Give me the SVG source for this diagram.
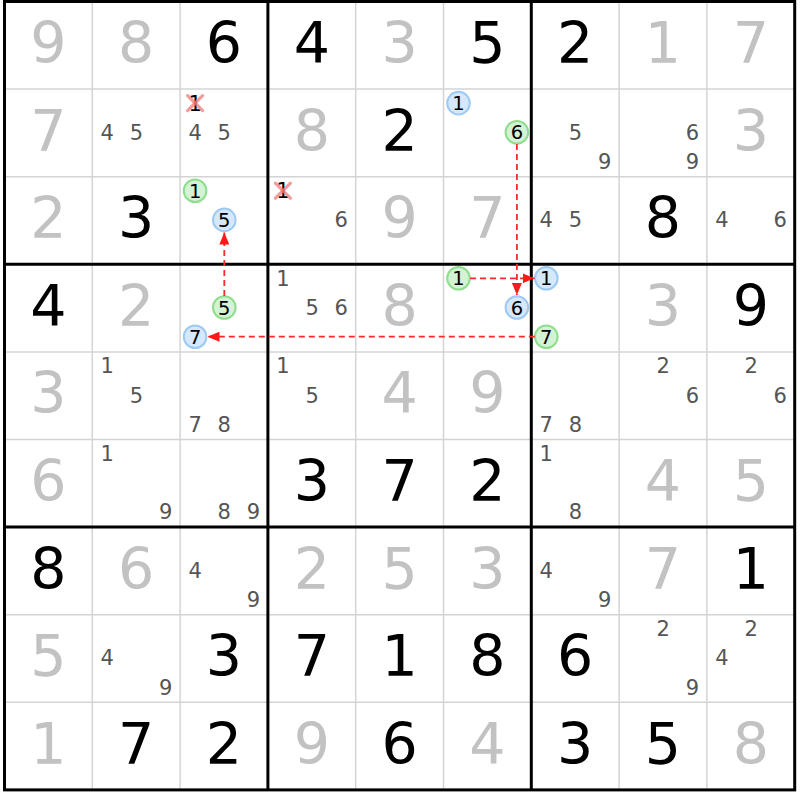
<svg xmlns="http://www.w3.org/2000/svg" width="800" height="800" viewBox="0 0 800 800">
<style>
text{font-family:"DejaVu Sans","Liberation Sans",sans-serif;text-anchor:middle}
.g{font-size:57px;fill:#000}
.s{font-size:57px;fill:#c2c2c2}
.c{font-size:21px;fill:#555}
.k{font-size:21px;fill:#000}
.cd{font-size:19.5px;fill:#000}
.thin{stroke:#d4d4d4;stroke-width:1.5}
.thick{stroke:#000;stroke-width:3}
.gc{fill:#d4f2d4;stroke:#8ede8e;stroke-width:2}
.bc{fill:#d6e8fb;stroke:#9ccaf2;stroke-width:2}
.x{stroke:#f07070;stroke-opacity:0.7;stroke-width:3.2;stroke-linecap:round}
.ln{stroke:#ff2a2a;stroke-width:1.8;stroke-dasharray:6 4;fill:none}
</style>
<defs>
<marker id="ah" markerUnits="userSpaceOnUse" markerWidth="12" markerHeight="10" refX="12" refY="5" orient="auto">
<path d="M0,0 L12,5 L0,10 z" fill="#ff1a1a"/>
</marker>
</defs>
<rect x="0" y="0" width="800" height="800" fill="#fff"/>
<g id="grid">
<g class="thin">
<line x1="92.3" y1="1.5" x2="92.3" y2="789.9"/>
<line x1="180.1" y1="1.5" x2="180.1" y2="789.9"/>
<line x1="355.7" y1="1.5" x2="355.7" y2="789.9"/>
<line x1="443.5" y1="1.5" x2="443.5" y2="789.9"/>
<line x1="619.1" y1="1.5" x2="619.1" y2="789.9"/>
<line x1="706.9" y1="1.5" x2="706.9" y2="789.9"/>
<line x1="4.5" y1="89.1" x2="794.7" y2="89.1"/>
<line x1="4.5" y1="176.7" x2="794.7" y2="176.7"/>
<line x1="4.5" y1="351.9" x2="794.7" y2="351.9"/>
<line x1="4.5" y1="439.5" x2="794.7" y2="439.5"/>
<line x1="4.5" y1="614.7" x2="794.7" y2="614.7"/>
<line x1="4.5" y1="702.3" x2="794.7" y2="702.3"/>
</g>
<g class="thick">
<line x1="267.9" y1="1.5" x2="267.9" y2="789.9"/>
<line x1="531.3" y1="1.5" x2="531.3" y2="789.9"/>
<line x1="4.5" y1="264.3" x2="794.7" y2="264.3"/>
<line x1="4.5" y1="527.1" x2="794.7" y2="527.1"/>
<rect x="4.5" y="1.5" width="790.2" height="788.4" fill="none"/>
</g>
</g>
<g id="r1">
<g id="r1c1"><text class="s" x="48.4" y="63">9</text></g>
<g id="r1c2"><text class="s" x="136.2" y="63">8</text></g>
<g id="r1c3"><text class="g" x="224" y="63">6</text></g>
<g id="r1c4"><text class="g" x="311.8" y="63">4</text></g>
<g id="r1c5"><text class="s" x="399.6" y="63">3</text></g>
<g id="r1c6"><text class="g" x="487.4" y="63">5</text></g>
<g id="r1c7"><text class="g" x="575.2" y="63">2</text></g>
<g id="r1c8"><text class="s" x="663" y="63">1</text></g>
<g id="r1c9"><text class="s" x="750.8" y="63">7</text></g>
</g>
<g id="r2">
<g id="r2c1"><text class="s" x="48.4" y="150.6">7</text></g>
<g id="r2c2"><text class="c" x="107.3" y="139.8">4</text><text class="c" x="136.5" y="139.8">5</text></g>
<g id="r2c3"><text class="k" x="195.1" y="110.6">1</text><line class="x" x1="187.6" y1="95.6" x2="202.6" y2="110.6"/><line class="x" x1="202.6" y1="95.6" x2="187.6" y2="110.6"/><text class="c" x="195.1" y="139.8">4</text><text class="c" x="224.3" y="139.8">5</text></g>
<g id="r2c4"><text class="s" x="311.8" y="150.6">8</text></g>
<g id="r2c5"><text class="g" x="399.6" y="150.6">2</text></g>
<g id="r2c6"><circle class="bc" cx="458.5" cy="103.1" r="11.3"/><text class="cd" x="458.5" y="110.2">1</text><circle class="gc" cx="516.9" cy="132.3" r="11.3"/><text class="cd" x="516.9" y="139.4">6</text></g>
<g id="r2c7"><text class="c" x="575.5" y="139.8">5</text><text class="c" x="604.7" y="169">9</text></g>
<g id="r2c8"><text class="c" x="692.5" y="139.8">6</text><text class="c" x="692.5" y="169">9</text></g>
<g id="r2c9"><text class="s" x="750.8" y="150.6">3</text></g>
</g>
<g id="r3">
<g id="r3c1"><text class="s" x="48.4" y="238.2">2</text></g>
<g id="r3c2"><text class="g" x="136.2" y="238.2">3</text></g>
<g id="r3c3"><circle class="gc" cx="195.1" cy="190.7" r="11.3"/><text class="cd" x="195.1" y="197.8">1</text><circle class="bc" cx="224.3" cy="219.9" r="11.3"/><text class="cd" x="224.3" y="227">5</text></g>
<g id="r3c4"><text class="k" x="282.9" y="198.2">1</text><line class="x" x1="275.4" y1="183.2" x2="290.4" y2="198.2"/><line class="x" x1="290.4" y1="183.2" x2="275.4" y2="198.2"/><text class="c" x="341.3" y="227.4">6</text></g>
<g id="r3c5"><text class="s" x="399.6" y="238.2">9</text></g>
<g id="r3c6"><text class="s" x="487.4" y="238.2">7</text></g>
<g id="r3c7"><text class="c" x="546.3" y="227.4">4</text><text class="c" x="575.5" y="227.4">5</text></g>
<g id="r3c8"><text class="g" x="663" y="238.2">8</text></g>
<g id="r3c9"><text class="c" x="721.9" y="227.4">4</text><text class="c" x="780.3" y="227.4">6</text></g>
</g>
<g id="r4">
<g id="r4c1"><text class="g" x="48.4" y="325.8">4</text></g>
<g id="r4c2"><text class="s" x="136.2" y="325.8">2</text></g>
<g id="r4c3"><circle class="gc" cx="224.3" cy="307.5" r="11.3"/><text class="cd" x="224.3" y="314.6">5</text><circle class="bc" cx="195.1" cy="336.7" r="11.3"/><text class="cd" x="195.1" y="343.8">7</text></g>
<g id="r4c4"><text class="c" x="282.9" y="285.8">1</text><text class="c" x="312.1" y="315">5</text><text class="c" x="341.3" y="315">6</text></g>
<g id="r4c5"><text class="s" x="399.6" y="325.8">8</text></g>
<g id="r4c6"><circle class="gc" cx="458.5" cy="278.3" r="11.3"/><text class="cd" x="458.5" y="285.4">1</text><circle class="bc" cx="516.9" cy="307.5" r="11.3"/><text class="cd" x="516.9" y="314.6">6</text></g>
<g id="r4c7"><circle class="bc" cx="546.3" cy="278.3" r="11.3"/><text class="cd" x="546.3" y="285.4">1</text><circle class="gc" cx="546.3" cy="336.7" r="11.3"/><text class="cd" x="546.3" y="343.8">7</text></g>
<g id="r4c8"><text class="s" x="663" y="325.8">3</text></g>
<g id="r4c9"><text class="g" x="750.8" y="325.8">9</text></g>
</g>
<g id="r5">
<g id="r5c1"><text class="s" x="48.4" y="413.4">3</text></g>
<g id="r5c2"><text class="c" x="107.3" y="373.4">1</text><text class="c" x="136.5" y="402.6">5</text></g>
<g id="r5c3"><text class="c" x="195.1" y="431.8">7</text><text class="c" x="224.3" y="431.8">8</text></g>
<g id="r5c4"><text class="c" x="282.9" y="373.4">1</text><text class="c" x="312.1" y="402.6">5</text></g>
<g id="r5c5"><text class="s" x="399.6" y="413.4">4</text></g>
<g id="r5c6"><text class="s" x="487.4" y="413.4">9</text></g>
<g id="r5c7"><text class="c" x="546.3" y="431.8">7</text><text class="c" x="575.5" y="431.8">8</text></g>
<g id="r5c8"><text class="c" x="663.3" y="373.4">2</text><text class="c" x="692.5" y="402.6">6</text></g>
<g id="r5c9"><text class="c" x="751.1" y="373.4">2</text><text class="c" x="780.3" y="402.6">6</text></g>
</g>
<g id="r6">
<g id="r6c1"><text class="s" x="48.4" y="501">6</text></g>
<g id="r6c2"><text class="c" x="107.3" y="461">1</text><text class="c" x="165.7" y="519.4">9</text></g>
<g id="r6c3"><text class="c" x="224.3" y="519.4">8</text><text class="c" x="253.5" y="519.4">9</text></g>
<g id="r6c4"><text class="g" x="311.8" y="501">3</text></g>
<g id="r6c5"><text class="g" x="399.6" y="501">7</text></g>
<g id="r6c6"><text class="g" x="487.4" y="501">2</text></g>
<g id="r6c7"><text class="c" x="546.3" y="461">1</text><text class="c" x="575.5" y="519.4">8</text></g>
<g id="r6c8"><text class="s" x="663" y="501">4</text></g>
<g id="r6c9"><text class="s" x="750.8" y="501">5</text></g>
</g>
<g id="r7">
<g id="r7c1"><text class="g" x="48.4" y="588.6">8</text></g>
<g id="r7c2"><text class="s" x="136.2" y="588.6">6</text></g>
<g id="r7c3"><text class="c" x="195.1" y="577.8">4</text><text class="c" x="253.5" y="607">9</text></g>
<g id="r7c4"><text class="s" x="311.8" y="588.6">2</text></g>
<g id="r7c5"><text class="s" x="399.6" y="588.6">5</text></g>
<g id="r7c6"><text class="s" x="487.4" y="588.6">3</text></g>
<g id="r7c7"><text class="c" x="546.3" y="577.8">4</text><text class="c" x="604.7" y="607">9</text></g>
<g id="r7c8"><text class="s" x="663" y="588.6">7</text></g>
<g id="r7c9"><text class="g" x="750.8" y="588.6">1</text></g>
</g>
<g id="r8">
<g id="r8c1"><text class="s" x="48.4" y="676.2">5</text></g>
<g id="r8c2"><text class="c" x="107.3" y="665.4">4</text><text class="c" x="165.7" y="694.6">9</text></g>
<g id="r8c3"><text class="g" x="224" y="676.2">3</text></g>
<g id="r8c4"><text class="g" x="311.8" y="676.2">7</text></g>
<g id="r8c5"><text class="g" x="399.6" y="676.2">1</text></g>
<g id="r8c6"><text class="g" x="487.4" y="676.2">8</text></g>
<g id="r8c7"><text class="g" x="575.2" y="676.2">6</text></g>
<g id="r8c8"><text class="c" x="663.3" y="636.2">2</text><text class="c" x="692.5" y="694.6">9</text></g>
<g id="r8c9"><text class="c" x="751.1" y="636.2">2</text><text class="c" x="721.9" y="665.4">4</text></g>
</g>
<g id="r9">
<g id="r9c1"><text class="s" x="48.4" y="763.8">1</text></g>
<g id="r9c2"><text class="g" x="136.2" y="763.8">7</text></g>
<g id="r9c3"><text class="g" x="224" y="763.8">2</text></g>
<g id="r9c4"><text class="s" x="311.8" y="763.8">9</text></g>
<g id="r9c5"><text class="g" x="399.6" y="763.8">6</text></g>
<g id="r9c6"><text class="s" x="487.4" y="763.8">4</text></g>
<g id="r9c7"><text class="g" x="575.2" y="763.8">3</text></g>
<g id="r9c8"><text class="g" x="663" y="763.8">5</text></g>
<g id="r9c9"><text class="s" x="750.8" y="763.8">8</text></g>
</g>
<g id="connectors">
<line class="ln" x1="516.9" y1="144" x2="516.9" y2="295" marker-end="url(#ah)"/>
<line class="ln" x1="470" y1="278.3" x2="534.5" y2="278.3" marker-end="url(#ah)"/>
<line class="ln" x1="534.8" y1="336.7" x2="207.5" y2="336.7" marker-end="url(#ah)"/>
<line class="ln" x1="224.3" y1="296" x2="224.3" y2="232.5" marker-end="url(#ah)"/>
</g>
</svg>
